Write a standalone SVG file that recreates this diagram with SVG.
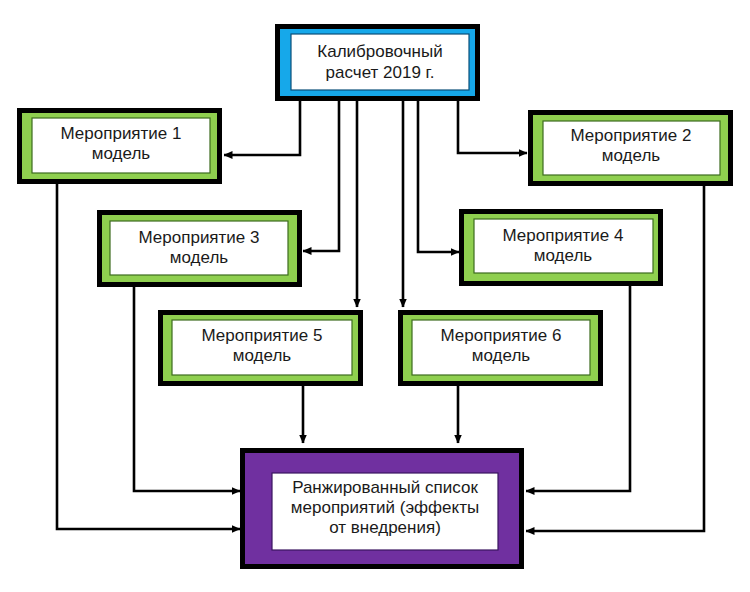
<svg xmlns="http://www.w3.org/2000/svg" width="750" height="592" viewBox="0 0 750 592">
<style>
.outer{stroke:#000;stroke-width:5}
.g{fill:#8fcf4f}
.b{fill:#16a8ea}
.p{fill:#7030a0}
.inner{fill:#fff;stroke-width:1.2}
.ig{stroke:#3d6b1e}
.ib{stroke:#0a4f78}
.ip{stroke:#3a1560}
text{font-family:"Liberation Sans",Arial,sans-serif;font-size:17px;fill:#1a1a1a;text-anchor:middle}
.c{fill:none;stroke:#000;stroke-width:2.6;marker-end:url(#ah)}
</style>
<defs>
<marker id="ah" markerWidth="9" markerHeight="8" refX="8.5" refY="4" orient="auto" markerUnits="userSpaceOnUse">
<path d="M0,0 L9,4 L0,8 Z" fill="#000"/>
</marker>
</defs>
<rect width="750" height="592" fill="#fff"/>
<g id="connectors">
<path class="c" d="M300,101 V155 H224"/>
<path class="c" d="M458,101 V153 H527"/>
<path class="c" d="M339,101 V251 H303"/>
<path class="c" d="M357,101 V307"/>
<path class="c" d="M403,101 V307"/>
<path class="c" d="M418,101 V252 H459"/>
<path class="c" d="M303,386 V443"/>
<path class="c" d="M458,386 V443"/>
<path class="c" d="M134,287 V491 H240"/>
<path class="c" d="M57,184 V529 H240"/>
<path class="c" d="M630,286 V491 H526"/>
<path class="c" d="M704,186 V531 H526"/>
</g>
<g id="calib">
<rect class="outer b" x="277.5" y="26.5" width="200" height="72"/>
<rect class="inner ib" x="291" y="34" width="178" height="56"/>
<text x="380" y="57">Калибровочный</text>
<text x="380" y="78">расчет 2019 г.</text>
</g>
<g id="m1">
<rect class="outer g" x="19.5" y="110.5" width="200" height="71"/>
<rect class="inner ig" x="32" y="118" width="178" height="55"/>
<text x="121" y="139">Мероприятие 1</text>
<text x="121" y="159">модель</text>
</g>
<g id="m2">
<rect class="outer g" x="530.5" y="112.5" width="200" height="71"/>
<rect class="inner ig" x="543" y="121" width="177" height="54"/>
<text x="631" y="141">Мероприятие 2</text>
<text x="631" y="161">модель</text>
</g>
<g id="m3">
<rect class="outer g" x="99.5" y="212.5" width="200" height="72"/>
<rect class="inner ig" x="110" y="221" width="178" height="54"/>
<text x="199" y="243">Мероприятие 3</text>
<text x="199" y="263">модель</text>
</g>
<g id="m4">
<rect class="outer g" x="461.5" y="211.5" width="199" height="72"/>
<rect class="inner ig" x="474" y="219" width="179" height="54"/>
<text x="563" y="241">Мероприятие 4</text>
<text x="563" y="261">модель</text>
</g>
<g id="m5">
<rect class="outer g" x="160.5" y="312.5" width="200" height="71"/>
<rect class="inner ig" x="172" y="320" width="180" height="55"/>
<text x="262" y="341">Мероприятие 5</text>
<text x="262" y="361">модель</text>
</g>
<g id="m6">
<rect class="outer g" x="400.5" y="312.5" width="200" height="71"/>
<rect class="inner ig" x="412" y="320" width="178" height="55"/>
<text x="501" y="341">Мероприятие 6</text>
<text x="501" y="361">модель</text>
</g>
<g id="ranked">
<rect class="outer p" x="242.5" y="450.5" width="279" height="116"/>
<rect class="inner ip" x="272" y="473" width="226" height="77"/>
<text x="385" y="493">Ранжированный список</text>
<text x="385" y="513">мероприятий (эффекты</text>
<text x="385" y="533">от внедрения)</text>
</g>
</svg>
